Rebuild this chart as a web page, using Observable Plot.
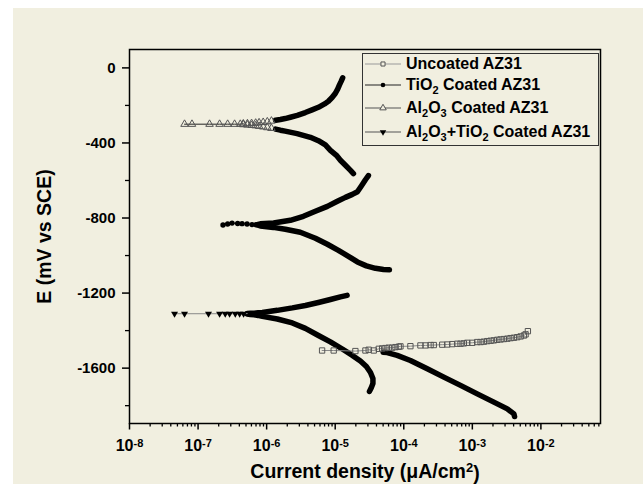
<!DOCTYPE html>
<html><head><meta charset="utf-8">
<script src="https://cdn.jsdelivr.net/npm/d3@7"></script>
<script src="https://cdn.jsdelivr.net/npm/@observablehq/plot@0.6"></script>
<style>
html,body{margin:0;padding:0;background:#fff;}
#wrap{position:relative;width:643px;height:484px;overflow:hidden;font-family:"Liberation Sans",Arial,sans-serif;}
#bg{position:absolute;left:13px;top:8px;right:0;bottom:0;background:#f1efe0;}
#chart{position:absolute;left:0;top:0;}
#legend{position:absolute;left:362px;top:53px;width:237px;height:93px;border:1px solid #333;box-sizing:border-box;}
.row{position:absolute;left:0;height:22px;display:flex;align-items:center;font-weight:bold;font-size:16px;color:#000;white-space:nowrap;}
.row svg{flex:none;}
.row sub{font-size:11px;vertical-align:-4px;line-height:0;}
</style></head><body>
<div id="wrap"><div id="bg"></div><div id="chart"></div><div id="legend"></div></div>
<script>
// ---------- data (current density in µA/cm², potential in mV vs SCE) ----------
const seriesNames = [
  "Uncoated AZ31",
  "TiO<sub>2</sub> Coated AZ31",
  "Al<sub>2</sub>O<sub>3</sub> Coated AZ31",
  "Al<sub>2</sub>O<sub>3</sub>+TiO<sub>2</sub> Coated AZ31"
];
const xLabelText = "Current density (\u03bcA/cm";
const xLabelSup = "2";
const yLabelText = "E (mV vs SCE)";
const xMajorTicks = [1e-8, 1e-7, 1e-6, 1e-5, 1e-4, 1e-3, 1e-2];
const yMajorTicks = [-1600, -1200, -800, -400, 0];
const yMinorTicks = [-1800, -1400, -1000, -600, -200];

// Uncoated AZ31
const uncoatedSparse = [[6.44e-6,-1506],[9.51e-6,-1506],[1.97e-5,-1509],[2.76e-5,-1506],[3.08e-5,-1502],[3.65e-5,-1506],[4.32e-5,-1497],[4.84e-5,-1495],[5.41e-5,-1493],[6.04e-5,-1491],[6.78e-5,-1491],[7.57e-5,-1488],[8.45e-5,-1486],[8.95e-5,-1484],[1.25e-4,-1483],[1.75e-4,-1479],[2.08e-4,-1479],[2.46e-4,-1477],[2.74e-4,-1477],[3.64e-4,-1475],[4.31e-4,-1474],[5.09e-4,-1472],[6.03e-4,-1470],[6.73e-4,-1470],[7.52e-4,-1468],[8.43e-4,-1465],[9.98e-4,-1465],[1.18e-3,-1461],[1.32e-3,-1461],[1.47e-3,-1459],[1.65e-3,-1456],[1.85e-3,-1454],[2.06e-3,-1452],[2.31e-3,-1449],[2.58e-3,-1447],[2.88e-3,-1445],[3.24e-3,-1443],[3.61e-3,-1440],[4.04e-3,-1438],[4.52e-3,-1435],[5.06e-3,-1431],[5.65e-3,-1426],[5.98e-3,-1420],[6.46e-3,-1403]];
const uncoatedAnodic = [];
const uncoatedCathodic = [[5.0e-5,-1515],[5.73e-5,-1517],[8.02e-5,-1532],[1.25e-4,-1559],[2.2e-4,-1603],[3.84e-4,-1648],[6.73e-4,-1692],[1.18e-3,-1737],[2.06e-3,-1781],[3.24e-3,-1817],[4.04e-3,-1844],[4.13e-3,-1858]];

// TiO2 coated AZ31
const tio2Sparse = [[2.31e-7,-837],[2.70e-7,-832],[3.13e-7,-827],[3.78e-7,-829],[4.38e-7,-830],[5.18e-7,-832],[6.12e-7,-835],[7.0e-7,-836]];
const tio2Anodic = [[7.5e-7,-834],[8.09e-7,-831],[1.265e-6,-827],[2.22e-6,-812],[3.44e-6,-791],[5.14e-6,-764],[7.69e-6,-738],[1.076e-5,-711],[1.41e-5,-690],[1.78e-5,-674],[2.11e-5,-660],[2.42e-5,-628],[2.76e-5,-596],[3.05e-5,-574]];
const tio2Cathodic = [[7.5e-7,-838],[8.09e-7,-842],[1.253e-6,-850],[1.875e-6,-860],[3.10e-6,-876],[5.14e-6,-908],[7.69e-6,-940],[1.114e-5,-972],[1.56e-5,-1004],[2.11e-5,-1034],[2.85e-5,-1055],[3.86e-5,-1068],[5.06e-5,-1074],[6.18e-5,-1076]];

// Al2O3 coated AZ31
const al2o3Sparse = [[6.35e-8,-300],[8.15e-8,-300],[1.47e-7,-300],[2.06e-7,-300],[2.70e-7,-300],[3.41e-7,-300],[4.13e-7,-300]];
const al2o3Anodic = [[4.57e-7,-298],[5.25e-7,-297],[6.03e-7,-296],[6.92e-7,-294],[7.76e-7,-292],[8.91e-7,-290],[1.023e-6,-287],[1.175e-6,-283],[1.35e-6,-279],[1.585e-6,-275],[1.86e-6,-270],[2.22e-6,-263],[2.8e-6,-253],[3.67e-6,-238],[4.6e-6,-224],[5.69e-6,-210],[7.0e-6,-192],[7.96e-6,-178],[9.0e-6,-158],[1.007e-5,-135],[1.09e-5,-112],[1.15e-5,-92],[1.22e-5,-72],[1.285e-5,-53]];
const al2o3Cathodic = [[4.57e-7,-302],[5.25e-7,-304],[6.03e-7,-306],[6.92e-7,-308],[7.76e-7,-311],[8.91e-7,-314],[1.023e-6,-318],[1.175e-6,-322],[1.35e-6,-326],[1.585e-6,-332],[1.86e-6,-337],[2.78e-6,-350],[4.35e-6,-370],[5.69e-6,-388],[7.19e-6,-410],[8.51e-6,-439],[1.042e-5,-466],[1.19e-5,-492],[1.41e-5,-519],[1.67e-5,-546],[1.845e-5,-563]];

// Al2O3+TiO2 coated AZ31
const duplexSparse = [[4.54e-8,-1310],[6.35e-8,-1310],[1.42e-7,-1310],[2.06e-7,-1310],[2.49e-7,-1310],[2.88e-7,-1310],[3.49e-7,-1310],[4.04e-7,-1310],[4.61e-7,-1310]];
const duplexAnodic = [[5.2e-7,-1309],[5.78e-7,-1308],[6.6e-7,-1307],[7.5e-7,-1305],[8.65e-7,-1303],[1.432e-6,-1292],[2.37e-6,-1279],[3.67e-6,-1266],[5.69e-6,-1250],[8.51e-6,-1234],[1.19e-5,-1220],[1.49e-5,-1212]];
const duplexCathodic = [[5.2e-7,-1312],[5.78e-7,-1314],[6.6e-7,-1316],[7.5e-7,-1319],[8.65e-7,-1324],[1.432e-6,-1338],[2.37e-6,-1359],[3.67e-6,-1388],[5.69e-6,-1426],[8.51e-6,-1460],[1.27e-5,-1498],[1.78e-5,-1532],[2.33e-5,-1562],[2.85e-5,-1591],[3.27e-5,-1623],[3.55e-5,-1655],[3.55e-5,-1682],[3.37e-5,-1703],[3.16e-5,-1724]];

// ---------- styles ----------
const styles = [
  {symbol:"square", r:3.0, fill:"none", stroke:"#555", sw:1, line:"#888", rotate:0, thickMin:0, legendLine:"#9a9a9a", legendR:2.3},
  {symbol:"circle", r:2.7, fill:"#000", stroke:"none", sw:0, line:"#000", rotate:0, thickMin:0, legendLine:"#222", legendR:2.3},
  {symbol:"triangle", r:2.8, fill:"none", stroke:"#555", sw:1, line:"#222", rotate:0, thickMin:1.3e-6, legendLine:"#555", legendR:2.4},
  {symbol:"triangle", r:2.6, fill:"#000", stroke:"none", sw:0, line:"#888", rotate:180, thickMin:0, legendLine:"#555", legendR:2.4}
];
const seriesData = [
  [uncoatedSparse, uncoatedAnodic, uncoatedCathodic],
  [tio2Sparse, tio2Anodic, tio2Cathodic],
  [al2o3Sparse, al2o3Anodic, al2o3Cathodic],
  [duplexSparse, duplexAnodic, duplexCathodic]
];

// minor log ticks
const xMinorTicks = [];
for (let e = -8; e <= -2; e++) for (let m = 2; m <= 9; m++) { const v = m * Math.pow(10, e); if (v < 0.074) xMinorTicks.push(v); }

const X = d => d[0], Y = d => d[1];
const thickMarks = [], thinMarks = [], dotMarks = [];
seriesData.forEach(([sparse, an, ca], k) => {
  const s = styles[k];
  for (const br of [an, ca]) {
    thickMarks.push(Plot.line(br.filter(d => d[0] >= s.thickMin), {x: X, y: Y, stroke: "#000", strokeWidth: 5.5, strokeLinecap: "round", strokeLinejoin: "round"}));
  }
  const thin = sparse.concat(an.length ? [an[0]] : []);
  thinMarks.push(Plot.line(thin, {x: X, y: Y, stroke: s.line, strokeWidth: 1}));
  const dotOpts = {x: X, y: Y, symbol: s.symbol, r: s.r, fill: s.fill, stroke: s.stroke, strokeWidth: s.sw, rotate: s.rotate};
  dotMarks.push(Plot.dot(sparse, dotOpts));
  dotMarks.push(Plot.dot(an.filter(d => d[0] < s.thickMin), dotOpts));
  dotMarks.push(Plot.dot(ca.filter(d => d[0] < s.thickMin), dotOpts));
});

const chart = Plot.plot({
  width: 643, height: 484,
  marginLeft: 129, marginRight: 43, marginTop: 49, marginBottom: 61,
  style: {background: "transparent", fontFamily: "'Liberation Sans', Arial, sans-serif", fontWeight: "bold", fontSize: "15px", color: "#000", overflow: "visible"},
  x: {type: "log", domain: [1e-8, 0.074]},
  y: {domain: [-1895, 98]},
  marks: [
    ...thickMarks,
    ...thinMarks,
    ...dotMarks,
    Plot.axisX({ticks: xMinorTicks, tickSize: 3.5, strokeWidth: 1.3, tickFormat: () => "", label: null}),
    Plot.axisX({ticks: xMajorTicks, tickSize: 6.5, strokeWidth: 1.5, tickPadding: 10, fontSize: 16,
      tickFormat: d => String(Math.round(Math.log10(d))),
      label: xLabelText, labelAnchor: "center", labelOffset: 54, labelArrow: "none"}),
    Plot.axisY({ticks: yMinorTicks, tickSize: 4, strokeWidth: 1.3, tickFormat: () => "", label: null}),
    Plot.axisY({ticks: yMajorTicks, tickSize: 7, strokeWidth: 1.5, tickPadding: 7, fontSize: 15,
      tickFormat: d => String(d),
      label: yLabelText, labelAnchor: "center", labelOffset: 92, labelArrow: "none"}),
    Plot.frame({stroke: "#000", strokeWidth: 1.5})
  ]
});
document.getElementById("chart").appendChild(chart);

// superscript tick labels and axis label
const svg = d3.select(chart);
svg.selectAll('g[aria-label="x-axis tick label"] text').each(function() {
  const t = d3.select(this); const e = t.text();
  if (e === "") return;
  t.text(null);
  t.append("tspan").text("10");
  t.append("tspan").attr("dy", "-0.42em").attr("font-size", "11px").text(e);
});
svg.selectAll('g[aria-label="x-axis label"] text').each(function() {
  const t = d3.select(this);
  t.attr("font-size", "19.5px");
  t.text(null);
  t.append("tspan").text(xLabelText);
  t.append("tspan").attr("dy", "-0.45em").attr("font-size", "13px").text(xLabelSup);
  t.append("tspan").attr("dy", "0.45em").text(")");
});
svg.selectAll('g[aria-label="y-axis label"] text').attr("font-size", "19.5px");

// legend
const legend = d3.select("#legend");
const rowCenters = [10, 31, 54, 78];
seriesNames.forEach((name, k) => {
  const s = styles[k];
  const row = legend.append("div").attr("class", "row").style("top", (rowCenters[k] - 11) + "px");
  const sv = row.append("svg").attr("width", 43).attr("height", 22);
  sv.append("line").attr("x1", 2).attr("x2", 38).attr("y1", 11).attr("y2", 11).attr("stroke", s.legendLine).attr("stroke-width", 1.2);
  const sym = {square: d3.symbolSquare, circle: d3.symbolCircle, triangle: d3.symbolTriangle}[s.symbol];
  sv.append("path").attr("d", d3.symbol(sym, Math.PI * s.legendR * s.legendR)())
    .attr("transform", `translate(20,11) rotate(${s.rotate})`)
    .attr("fill", s.fill === "none" ? "#f1efe0" : s.fill).attr("stroke", s.stroke).attr("stroke-width", s.sw);
  row.append("span").html(name);
});
</script>
</body></html>
